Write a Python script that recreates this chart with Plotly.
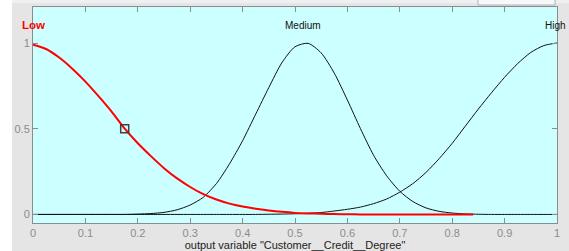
import plotly.graph_objects as go

# sample positions along the output variable
x_vals = [0.0, 0.025, 0.05, 0.075, 0.1, 0.125, 0.15, 0.175, 0.2, 0.225,
          0.25, 0.275, 0.3, 0.325, 0.35, 0.375, 0.4, 0.425, 0.45, 0.475,
          0.5, 0.525, 0.55, 0.575, 0.6, 0.625, 0.65, 0.675, 0.7, 0.725,
          0.75, 0.775, 0.8, 0.825, 0.85, 0.875, 0.9, 0.925, 0.95, 0.975, 1.0]

# "Low" membership (red, selected) – drawn up to about 0.84
low_x = x_vals[:34] + [0.84]
low_y = [0.99, 0.965, 0.915, 0.85, 0.775, 0.69, 0.60, 0.50, 0.415, 0.34,
         0.27, 0.21, 0.16, 0.118, 0.087, 0.063, 0.046, 0.033, 0.023, 0.015,
         0.009, 0.006, 0.004, 0.002, 0.001, 0.0, 0.0, 0.0, 0.0, 0.0,
         0.0, 0.0, 0.0, 0.0, 0.0]

medium_y = [0.0, 0.0, 0.0, 0.0, 0.0, 0.0, 0.0, 0.0, 0.002, 0.005,
            0.012, 0.027, 0.055, 0.10, 0.18, 0.295, 0.43, 0.585, 0.74, 0.885,
            0.978, 0.998, 0.942, 0.824, 0.667, 0.50, 0.345, 0.225, 0.135, 0.075,
            0.038, 0.018, 0.008, 0.003, 0.001, 0.0, 0.0, 0.0, 0.0, 0.0, 0.0]

high_y = [0.0, 0.0, 0.0, 0.0, 0.0, 0.0, 0.0, 0.0, 0.0, 0.0,
          0.0, 0.0, 0.0, 0.0, 0.0, 0.0, 0.0, 0.0, 0.001, 0.002,
          0.004, 0.007, 0.011, 0.02, 0.03, 0.043, 0.063, 0.09, 0.13, 0.18,
          0.245, 0.325, 0.415, 0.515, 0.615, 0.71, 0.80, 0.88, 0.945, 0.985, 1.0]

mf_names = ["Low", "Medium", "High"]
mf_label_x = [0.0, 0.515, 0.998]
mf_label_y = [1.104, 1.104, 1.104]

marker_x = [0.175]
marker_y = [0.5]

x_tick_vals = [0, 0.1, 0.2, 0.3, 0.4, 0.5, 0.6, 0.7, 0.8, 0.9, 1]
x_tick_text = ["0", "0.1", "0.2", "0.3", "0.4", "0.5", "0.6", "0.7", "0.8", "0.9", "1"]
y_tick_vals = [0, 0.5, 1]
y_tick_text = ["0", "0.5", "1"]

FONT = "Liberation Sans, Arial, sans-serif"

fig = go.Figure()
fig.add_trace(go.Scatter(x=x_vals, y=medium_y, mode="lines",
                         line=dict(color="#111111", width=1, shape="spline", smoothing=0.7),
                         hoverinfo="skip", showlegend=False))
fig.add_trace(go.Scatter(x=x_vals, y=high_y, mode="lines",
                         line=dict(color="#111111", width=1, shape="spline", smoothing=0.7),
                         hoverinfo="skip", showlegend=False))
fig.add_trace(go.Scatter(x=low_x, y=low_y, mode="lines",
                         line=dict(color="#ff0000", width=2, shape="spline", smoothing=0.7),
                         hoverinfo="skip", showlegend=False))
fig.add_trace(go.Scatter(x=marker_x, y=marker_y, mode="markers",
                         marker=dict(symbol="square-open", size=8, color="#404040",
                                     line=dict(width=1.5, color="#404040")),
                         hoverinfo="skip", showlegend=False))

label_colors = ["#ff0000", "#111111", "#111111"]
label_sizes = [11.5, 10, 10]
for name, lx, ly, c, s in zip(mf_names, mf_label_x, mf_label_y, label_colors, label_sizes):
    txt = "<b>%s</b>" % name if name == "Low" else name
    fig.add_annotation(x=lx, y=ly, text=txt, showarrow=False, xref="x", yref="y",
                       font=dict(family=FONT, size=s, color=c),
                       xanchor="center", yanchor="middle")

W, H = 569, 251
L, R, T, B = 33, 12, 7, 28
pw = W - L - R
ph = H - T - B

def px_x(p):
    return (p - L) / pw

def px_y(p):
    return (H - B - p) / ph

shapes = [
    # white strip on the far left
    dict(type="rect", xref="paper", yref="paper", x0=px_x(0), x1=px_x(12),
         y0=px_y(H), y1=px_y(0), fillcolor="#ffffff", line=dict(width=0), layer="below"),
    # lighter strip at the top
    dict(type="rect", xref="paper", yref="paper", x0=px_x(12), x1=px_x(W),
         y0=px_y(3), y1=px_y(0), fillcolor="#f0f0f0", line=dict(width=0), layer="below"),
    # small box at top right
    dict(type="rect", xref="paper", yref="paper", x0=px_x(478), x1=px_x(555),
         y0=px_y(5), y1=px_y(-2), fillcolor="#f8f8f8", line=dict(width=1, color="#b0b0b0"),
         layer="below"),
]

fig.update_layout(
    width=W, height=H,
    margin=dict(l=L, r=R, t=T, b=B, pad=0, autoexpand=False),
    paper_bgcolor="#e5e5e5",
    plot_bgcolor="#ccffff",
    font=dict(family=FONT, size=11, color="#808080"),
    shapes=shapes,
    xaxis=dict(range=[0, 1], tickvals=x_tick_vals, ticktext=x_tick_text, automargin=False,
               showgrid=False, zeroline=False, showline=True, linecolor="#8c8c8c",
               linewidth=1, mirror="ticks", ticks="inside", ticklen=5, tickcolor="#8c8c8c",
               tickfont=dict(family=FONT, size=11, color="#8c8c8c"),
               title=dict(text='output variable "Customer__Credit__Degree"',
                          font=dict(family=FONT, size=11, color="#222222"), standoff=4)),
    yaxis=dict(range=[-0.05, 1.21], tickvals=y_tick_vals, ticktext=y_tick_text, automargin=False,
               showgrid=False, zeroline=False, showline=True, linecolor="#8c8c8c",
               linewidth=1, mirror="ticks", ticks="inside", ticklen=5, tickcolor="#8c8c8c",
               tickfont=dict(family=FONT, size=11, color="#8c8c8c")),
)

fig.write_html("out.html", config={"displayModeBar": False},
               post_script="document.body.style.margin='0px';document.body.style.overflow='hidden';")
